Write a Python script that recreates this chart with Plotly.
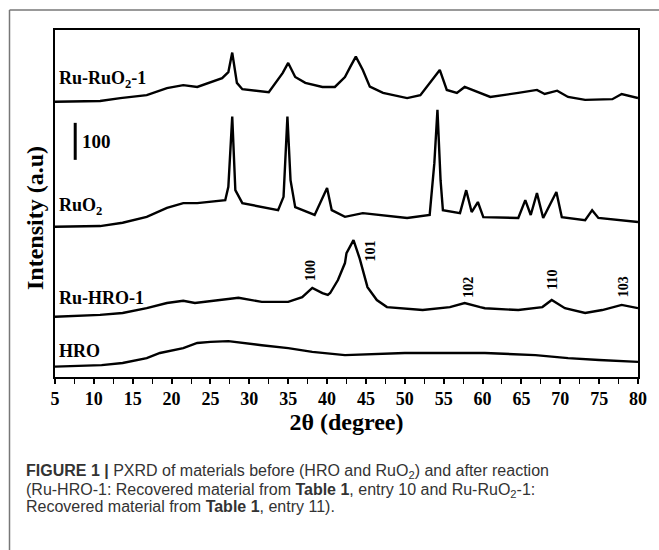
import plotly.graph_objects as go

# ---- data (2theta in degrees, intensity in a.u., patterns stacked as drawn) ----
hro_x = [5, 8, 11, 13.7, 16.8, 18.5, 21.5, 23.3, 25, 27.3, 29, 31.6, 35, 38.1, 42.3, 46, 50, 55, 60.3, 66.8, 71, 75, 80]
hro_y = [28, 30, 32, 38, 51, 65, 78, 92, 95, 97, 92, 86, 78, 68, 59, 62, 65, 65, 65, 59, 51, 46, 41]

ruhro_x = [5, 10.8, 13.7, 16.8, 19.4, 21.5, 23, 28.6, 31.6, 35, 36.8, 38.1, 39.4, 40.1, 40.4, 41.4, 42.3, 42.5, 43.4,
           44.2, 45.2, 46.4, 47.7, 52.3, 55.8, 57.7, 59.7, 60.3, 64.6, 67.7, 68.9, 70.6, 73.2, 75.4, 77.9, 80]
ruhro_y = [163, 168, 173, 186, 200, 206, 200, 214, 203, 203, 216, 241, 227, 222, 227, 262, 308, 335, 370,
           320, 243, 208, 189, 181, 189, 200, 189, 186, 181, 189, 208, 186, 173, 181, 195, 186]

ruo2_x = [5, 10.8, 13.7, 16.8, 19.4, 21.5, 23.3, 26.9, 27.3, 27.8, 28.2, 29.1, 33.7, 34.4, 34.9, 35.3, 35.9,
          38.4, 40.0, 40.6, 42.3, 44.6, 50.3, 53.2, 53.8, 54.2, 54.6, 54.9, 57.1, 57.9, 58.6, 59.4, 60.1,
          64.6, 65.5, 66.2, 67.0, 67.8, 69.5, 70.2, 73.2, 74.1, 74.9, 80]
ruo2_y = [406, 408, 417, 433, 457, 470, 470, 478, 514, 704, 505, 470, 451, 487, 704, 532, 459,
          438, 511, 451, 433, 443, 430, 438, 578, 722, 532, 451, 443, 505, 446, 473, 432,
          430, 478, 438, 497, 430, 500, 432, 424, 451, 430, 419]

rururo2_x = [5, 10.8, 13.4, 16.8, 19.4, 21.5, 23.3, 26.5, 27.3, 27.8, 28.4, 29.1, 32.5, 34.3, 35.0, 35.9,
             37.2, 39.4, 41.0, 42.3, 43.0, 43.7, 44.6, 45.5, 47.2, 50.3, 52, 53.2, 54.5, 55.4, 56.7, 57.7,
             59.3, 61, 64.6, 67.0, 68.0, 69.6, 71.0, 73.2, 76.7, 77.9, 80]
rururo2_y = [744, 746, 754, 762, 781, 789, 784, 808, 824, 877, 795, 778, 770, 822, 849, 811,
             795, 784, 784, 811, 839, 866, 830, 785, 768, 754, 762, 795, 830, 776, 768, 784,
             771, 757, 768, 776, 765, 774, 757, 749, 751, 765, 754]

series_names = ["HRO", "Ru-HRO-1", "RuO<sub>2</sub>", "Ru-RuO<sub>2</sub>-1"]
x_ticks = [5, 10, 15, 20, 25, 30, 35, 40, 45, 50, 55, 60, 65, 70, 75, 80]

# hkl labels for Ru-HRO-1
hkl_text = ["100", "101", "102", "110", "103"]
hkl_x = [37.8, 45.6, 58.1, 68.9, 78.1]
hkl_y = [289, 341, 243, 262, 243]

# series name label positions
label_x = [5.3, 5.3, 5.3, 5.3]
label_y = [70, 213, 460, 803]

scale_x = 7.6
scale_y0, scale_len = 587, 100

SERIF = "Liberation Serif, Times New Roman, serif"
SANS = "Liberation Sans, Arial, sans-serif"

fig = go.Figure()
for xs, ys, nm in [(hro_x, hro_y, series_names[0]), (ruhro_x, ruhro_y, series_names[1]),
                   (ruo2_x, ruo2_y, series_names[2]), (rururo2_x, rururo2_y, series_names[3])]:
    fig.add_trace(go.Scatter(x=xs, y=ys, mode="lines", name=nm,
                             line=dict(color="black", width=2.4), showlegend=False))

annotations = []
for t, x, y in zip(series_names, label_x, label_y):
    annotations.append(dict(x=x, y=y, xref="x", yref="y", text="<b>" + t + "</b>", showarrow=False,
                            xanchor="left", yanchor="middle",
                            font=dict(family=SERIF, size=18, color="black")))
for t, x, y in zip(hkl_text, hkl_x, hkl_y):
    annotations.append(dict(x=x, y=y, xref="x", yref="y", text="<b>" + t + "</b>", showarrow=False,
                            textangle=-90, xanchor="center", yanchor="middle",
                            font=dict(family=SERIF, size=14, color="black")))
annotations.append(dict(x=scale_x + 0.6, y=scale_y0 + scale_len / 2, xref="x", yref="y", text="<b>100</b>",
                        showarrow=False, xanchor="left", yanchor="middle",
                        font=dict(family=SERIF, size=19, color="black")))

# y-axis title (placed as annotation to match the reference's vertical offset)
annotations.append(dict(x=(35 - 55) / 583, y=(377 - 218) / 347, xref="paper", yref="paper",
                        text="<b>Intensity (a.u)</b>", showarrow=False, textangle=-90,
                        xanchor="center", yanchor="middle",
                        font=dict(family=SERIF, size=24, color="black")))

# caption
cap_font = dict(family=SANS, size=16, color="#333333")
cap_lines = [
    "<b>FIGURE 1 |</b> PXRD of materials before (HRO and RuO<sub>2</sub>) and after reaction",
    "(Ru-HRO-1: Recovered material from <b>Table 1</b>, entry 10 and Ru-RuO<sub>2</sub>-1:",
    "Recovered material from <b>Table 1</b>, entry 11).",
]
cap_py = [472, 490, 507]
for t, py in zip(cap_lines, cap_py):
    annotations.append(dict(x=(24 - 55) / 583, y=(377 - py) / 347, xref="paper", yref="paper", text=t,
                            showarrow=False, xanchor="left", yanchor="middle", align="left", font=cap_font))

shapes = [
    dict(type="line", xref="x", yref="y", x0=scale_x, x1=scale_x, y0=scale_y0, y1=scale_y0 + scale_len,
         line=dict(color="black", width=3)),
    # outer figure frame (left and top)
    dict(type="line", xref="paper", yref="paper", x0=(9.5 - 55) / 583, x1=(9.5 - 55) / 583,
         y0=(377 - 560) / 347, y1=(377 - 10) / 347, line=dict(color="#777777", width=1.5)),
    dict(type="line", xref="paper", yref="paper", x0=(9.5 - 55) / 583, x1=(670 - 55) / 583,
         y0=(377 - 10) / 347, y1=(377 - 10) / 347, line=dict(color="#777777", width=1.5)),
]

fig.update_layout(
    width=659, height=550,
    margin=dict(l=55, r=21, t=30, b=173),
    paper_bgcolor="white", plot_bgcolor="white",
    annotations=annotations, shapes=shapes,
    xaxis=dict(range=[5, 80], tickvals=x_ticks, ticktext=["<b>%d</b>" % v for v in x_ticks],
               ticks="outside", ticklen=5, tickwidth=1.5, tickcolor="black",
               minor=dict(tick0=5, dtick=2.5, ticks="outside", ticklen=5, tickwidth=1.2, tickcolor="black"),
               showline=True, linecolor="black", linewidth=1.5, mirror=True,
               showgrid=False, zeroline=False,
               tickfont=dict(family=SERIF, size=18, color="black"),
               title=dict(text="<b>2θ (degree)</b>", font=dict(family=SERIF, size=24, color="black"),
                          standoff=2)),
    yaxis=dict(range=[0, 938], showticklabels=False, ticks="",
               showline=True, linecolor="black", linewidth=1.5, mirror=True,
               showgrid=False, zeroline=False),
)

fig.write_html("out.html")
